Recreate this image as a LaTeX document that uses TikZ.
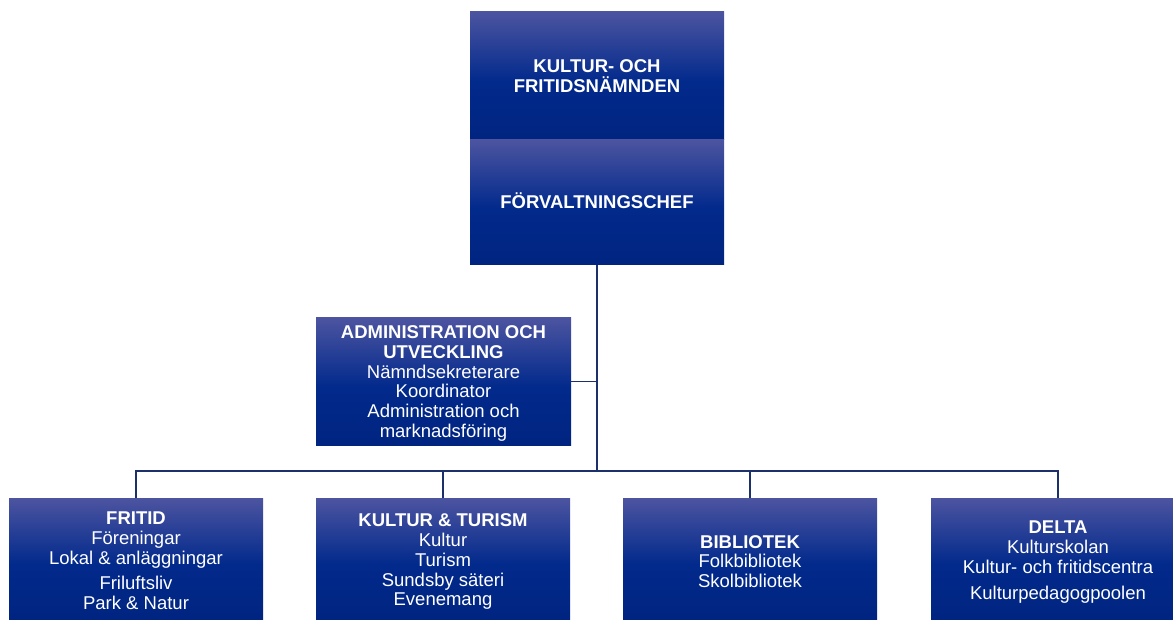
\documentclass[tikz,border=0pt]{standalone}
\usepackage{fontspec}
\setmainfont{Liberation Sans}
\definecolor{boxtop}{RGB}{76,84,160}
\definecolor{boxmid}{RGB}{2,42,140}
\definecolor{boxbot}{RGB}{0,36,128}
\definecolor{linecol}{RGB}{28,48,108}
\pgfdeclareverticalshading{boxshade}{100bp}{color(0bp)=(boxbot); color(25bp)=(boxbot); color(48bp)=(boxmid); color(75bp)=(boxtop); color(100bp)=(boxtop)}
\newcommand{\downstrut}[1]{\rule{0pt}{#1}}
\tikzset{
  orgbox/.style={shading=boxshade, minimum width=254, inner sep=0pt, align=center,
    text=white, font=\fontsize{18.5}{19.8}\selectfont},
  conn/.style={draw=linecol, line width=1.6pt}
}
\begin{document}
\begin{tikzpicture}[x=1pt,y=-1pt]
\useasboundingbox (0,0) rectangle (1173,620);
\clip (0,0) rectangle (1173,620);
\node[orgbox, minimum height=128] (board) at (597,76) {\textbf{KULTUR- OCH}\\\textbf{FRITIDSNÄMNDEN}};
\node[orgbox, minimum height=125] (chef) at (597,202.5) {\textbf{FÖRVALTNINGSCHEF}\rule[-4pt]{0pt}{0pt}};
\node[orgbox, minimum width=255, minimum height=127] (admin) at (443.5,381.5) {\downstrut{17pt}\textbf{ADMINISTRATION OCH}\\\textbf{UTVECKLING}\\Nämndsekreterare\\Koordinator\\Administration och\\marknadsföring};
\node[orgbox, minimum height=121] (fritid) at (136,559) {\downstrut{16pt}\textbf{FRITID}\\Föreningar\\Lokal \& anläggningar\\[5pt]Friluftsliv\\Park \& Natur};
\node[orgbox, minimum height=121] (kultur) at (443,559) {\downstrut{18.5pt}\textbf{KULTUR \& TURISM}\\Kultur\\Turism\\Sundsby säteri\\Evenemang};
\node[orgbox, minimum height=121] (bibl) at (750,559) {\downstrut{18pt}\textbf{BIBLIOTEK}\\Folkbibliotek\\Skolbibliotek};
\node[orgbox, minimum height=121] (delta) at (1058,559) {\downstrut{18.5pt}\textbf{DELTA}\\Kulturskolan\\Kultur- och fritidscentra\\[6pt]Kulturpedagogpoolen};
\coordinate (bus) at (597,471);
\draw[conn] (chef.south) -- (bus);
\draw[conn] (admin.east) -- (admin.east -| chef.south);
\draw[conn] (fritid.north) -- (fritid.north |- bus) -- (delta.north |- bus) -- (delta.north);
\draw[conn] (kultur.north) -- (kultur.north |- bus);
\draw[conn] (bibl.north) -- (bibl.north |- bus);
\end{tikzpicture}
\end{document}
